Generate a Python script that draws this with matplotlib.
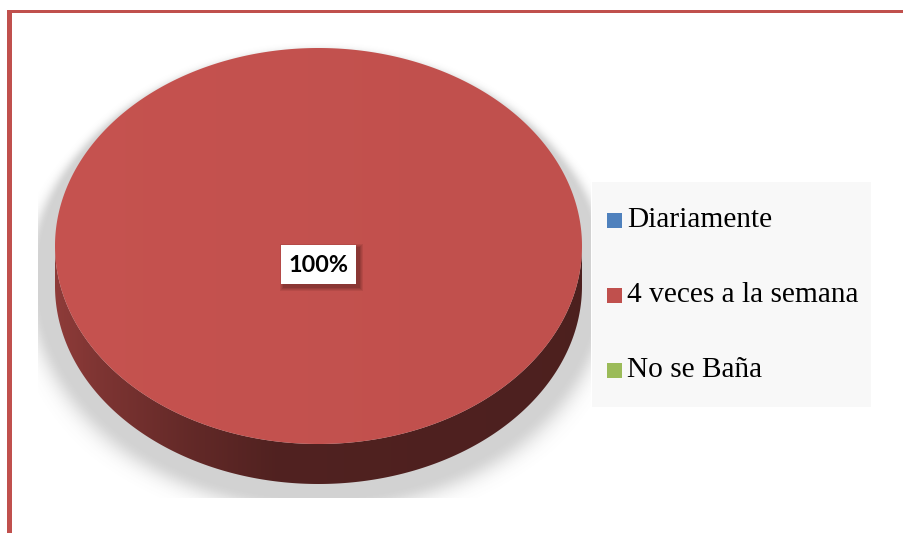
import numpy as np
import matplotlib
matplotlib.use("Agg")
import matplotlib.pyplot as plt
from matplotlib.patches import Polygon, Rectangle
from matplotlib.colors import to_rgb

# ---- data ----
categories = ["Diariamente", "4 veces a la semana", "No se Baña"]
values = [0, 100, 0]
colors = ["#4F81BD", "#C0504D", "#9BBB59"]

W, H = 904, 533
fig = plt.figure(figsize=(W / 100, H / 100), dpi=100)
ax = fig.add_axes([0, 0, 1, 1])
ax.set_xlim(0, W)
ax.set_ylim(H, 0)
ax.axis("off")

# frame lines (top and left)
ax.add_patch(Rectangle((7, 10), W, 3.2, color="#C0504D", lw=0, zorder=10))
ax.add_patch(Rectangle((7, 10), 5, H, color="#C0504D", lw=0, zorder=10))

# pie geometry (pixels)
cx, cy, a, b, depth = 318.5, 246.0, 263.5, 198.0, 40.0

# ---- soft shadow ----
yy, xx = np.mgrid[0:H, 0:W] + 0.5
sx, sy, sa, sb = cx, 276.0, 280.0, 222.0
r = np.sqrt(((xx - sx) / sa) ** 2 + ((yy - sy) / sb) ** 2)
dist = (r - 1) * sb
blur = 6 + 10 * np.clip((yy - 150) / 300, 0, 1)
sh = np.where(dist < 0, 1.0, np.exp(-(np.clip(dist, 0, None) / blur) ** 2))
box = (xx >= 38) & (xx <= 591) & (yy <= 498)
alpha = 0.27 * sh * box
rgba = np.zeros((H, W, 4))
rgba[..., :3] = 0.35
rgba[..., 3] = alpha
ax.imshow(rgba, extent=(0, W, H, 0), zorder=1, interpolation="bilinear")

# ---- slices ----
total = float(sum(values))
start = -np.pi / 2
xg = np.linspace(0, 1, 400)
for cat, v, col in zip(categories, values, colors):
    if v <= 0:
        continue
    t0 = start
    t1 = start + 2 * np.pi * v / total
    start = t1
    base = np.array(to_rgb(col))
    # side band (front half: t in [0, pi] in screen coords)
    segs = []
    for k in (0, 2 * np.pi, -2 * np.pi):
        l2, h2 = max(t0 + k, 0.0), min(t1 + k, np.pi)
        if h2 > l2:
            segs.append((l2, h2))
    for l2, h2 in segs:
        tt = np.linspace(l2, h2, 300)
        top = np.column_stack([cx + a * np.cos(tt), cy + b * np.sin(tt)])
        bot = np.column_stack([cx + a * np.cos(tt[::-1]), cy + depth + b * np.sin(tt[::-1])])
        poly = np.vstack([top, bot])
        fac = np.interp(xg, [0, 0.08, 0.25, 0.42, 1.0], [0.74, 0.66, 0.52, 0.42, 0.40])
        img = np.clip(base[None, None, :] * fac[None, :, None], 0, 1)
        im = ax.imshow(img, extent=(cx - a, cx + a, cy + b + depth, cy), aspect="auto",
                       zorder=2, interpolation="bilinear")
        p = Polygon(poly, closed=True, facecolor="none", edgecolor="none")
        ax.add_patch(p)
        im.set_clip_path(p)
    # top face
    tt = np.linspace(t0, t1, 600)
    pts = np.column_stack([cx + a * np.cos(tt), cy + b * np.sin(tt)])
    if v < total:
        pts = np.vstack([[cx, cy], pts])
    fac2 = np.interp(xg, [0, 1], [1.03, 1.0])
    img2 = np.clip(base[None, None, :] * fac2[None, :, None], 0, 1)
    im2 = ax.imshow(img2, extent=(cx - a, cx + a, cy + b, cy - b), aspect="auto",
                    zorder=3, interpolation="bilinear")
    p2 = Polygon(pts, closed=True, facecolor="none", edgecolor="none")
    ax.add_patch(p2)
    im2.set_clip_path(p2)

    # data label
    tm = (t0 + t1) / 2
    lx, ly = (cx, cy + 18) if v == total else (cx + 0.6 * a * np.cos(tm), cy + 0.6 * b * np.sin(tm))
    bw, bh = 75, 39
    for i, al in enumerate([0.10, 0.10, 0.12, 0.15]):
        g = 4 - i
        ax.add_patch(Rectangle((lx - bw / 2 + 3 - g, ly - bh / 2 + 3 - g), bw + 2 * g, bh + 2 * g,
                               facecolor="#3a1010", alpha=al, lw=0, zorder=4))
    ax.add_patch(Rectangle((lx - bw / 2, ly - bh / 2), bw, bh, facecolor="white", lw=0, zorder=5))
    ax.text(lx, ly + 1, f"{v / total * 100:.0f}%", ha="center", va="center",
            fontsize=16.8, fontweight="bold", family="Lato", color="#000000", zorder=6)

# ---- legend ----
ax.add_patch(Rectangle((592, 182), 279, 225, facecolor="#F8F8F8", lw=0, zorder=2))
ys = [220, 295, 370]
for cat, col, y in zip(categories, colors, ys):
    ax.add_patch(Rectangle((607, y - 7.5), 15, 15, facecolor=col, lw=0, zorder=3))
    ax.text(627, y, cat, ha="left", va="center", fontsize=21.2,
            family="Liberation Serif", color="#000000", zorder=3)

fig.savefig("out.png", dpi=100)
